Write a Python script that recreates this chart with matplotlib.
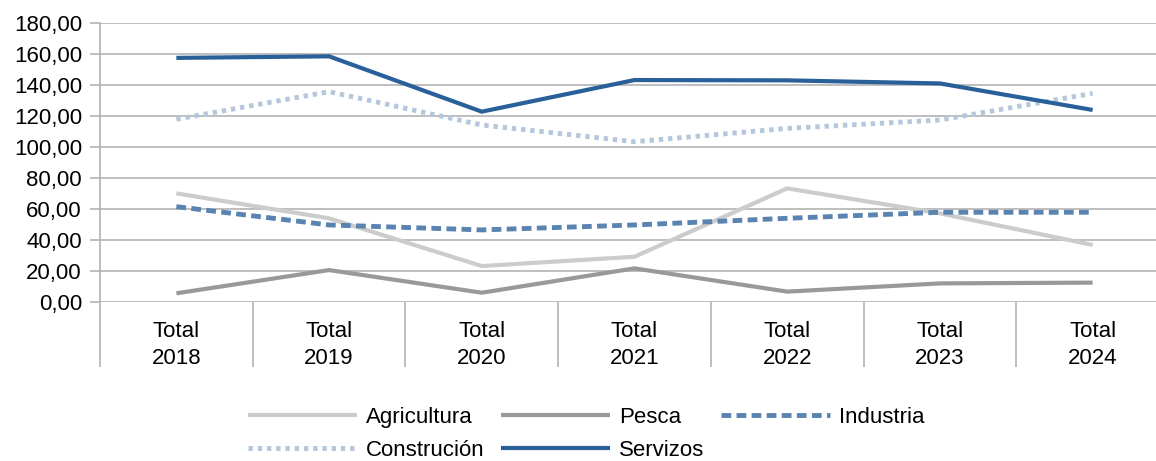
import matplotlib.pyplot as plt
from matplotlib.ticker import FixedLocator, FuncFormatter

plt.rcParams['font.family'] = ['Liberation Sans', 'DejaVu Sans']

# categories and series
years = ["Total\n2018", "Total\n2019", "Total\n2020", "Total\n2021",
         "Total\n2022", "Total\n2023", "Total\n2024"]
agricultura = [70.1, 54.0, 23.2, 29.2, 73.3, 57.2, 36.8]
pesca = [5.6, 20.6, 6.0, 21.7, 6.7, 12.0, 12.5]
industria = [61.5, 49.7, 46.5, 49.7, 54.0, 57.9, 57.9]
construcion = [117.9, 135.7, 114.2, 103.4, 112.0, 117.4, 134.6]
servizos = [157.5, 158.5, 122.8, 143.2, 143.0, 141.0, 123.9]

fig = plt.figure(figsize=(11.56, 4.61), dpi=100)
ax = fig.add_axes([100 / 1156, 159 / 461, 1069 / 1156, 279 / 461])

x = range(len(years))
lw = 3.0
h_agri, = ax.plot(x, agricultura, color='#cccccc', lw=lw, solid_capstyle='butt',
                  solid_joinstyle='miter', label='Agricultura')
h_pesca, = ax.plot(x, pesca, color='#999999', lw=lw, solid_capstyle='butt',
                   solid_joinstyle='miter', label='Pesca')
h_ind, = ax.plot(x, industria, color='#5983b0', lw=3.5, dashes=(2.0, 1.1),
                 dash_capstyle='butt', label='Industria')
h_con, = ax.plot(x, construcion, color='#b4c7dc', lw=3.5, dashes=(0.9, 1.0),
                 dash_capstyle='butt', label='Construción')
h_ser, = ax.plot(x, servizos, color='#2a6099', lw=lw, solid_capstyle='butt',
                 solid_joinstyle='miter', label='Servizos')

ax.set_xlim(-0.5, len(years) - 0.5)
ax.set_ylim(0, 180)
ax.set_yticks(range(0, 181, 20))
ax.yaxis.set_major_formatter(FuncFormatter(lambda v, p: f"{v:.2f}".replace('.', ',')))
ax.set_xticks(list(x))
ax.set_xticklabels(years, linespacing=1.35)
ax.xaxis.set_minor_locator(FixedLocator([i - 0.5 for i in range(len(years) + 1)]))

grid_c = '#b3b3b3'
ax.grid(axis='y', color=grid_c, lw=1.2)
ax.set_axisbelow(True)
for s in ['top', 'right', 'bottom']:
    ax.spines[s].set_visible(False)
ax.spines['left'].set_color(grid_c)
ax.spines['left'].set_linewidth(1.2)

ax.tick_params(axis='x', which='major', length=0, pad=14, labelsize=16)
ax.tick_params(axis='x', which='minor', length=47, width=1.2, color=grid_c)
ax.tick_params(axis='y', length=7, width=1.2, color=grid_c, pad=6, labelsize=16)

fig.legend(handles=[h_agri, h_con, h_pesca, h_ser, h_ind], ncol=3,
           loc='center', bbox_to_anchor=(586 / 1156, 1 - 434 / 461),
           frameon=False, fontsize=16, handlelength=4.9, handletextpad=0.4,
           columnspacing=0.75, labelspacing=0.55, borderpad=0)

fig.savefig('out.png', dpi=100)
